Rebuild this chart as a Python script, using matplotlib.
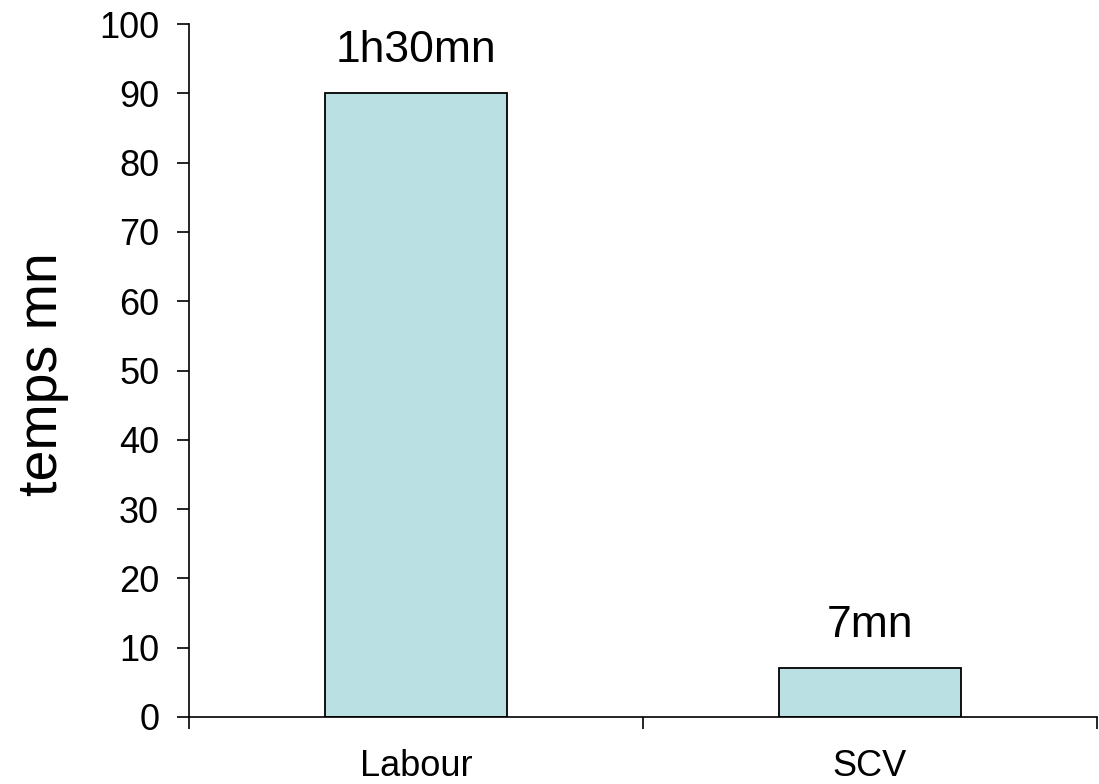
import matplotlib
matplotlib.use("Agg")
import matplotlib.pyplot as plt

categories = ["Labour", "SCV"]
values = [90, 7]
bar_labels = ["1h30mn", "7mn"]
y_ticks = [0, 10, 20, 30, 40, 50, 60, 70, 80, 90, 100]

plt.rcParams['font.family'] = ['Liberation Sans', 'DejaVu Sans']

fig = plt.figure(figsize=(10.99, 7.84), dpi=100)
ax = fig.add_axes([189/1099, 1 - 717/784, 908/1099, 693/784])

x = list(range(len(categories)))
bars = ax.bar(x, values, width=0.4, color="#BAE0E3", edgecolor="black", linewidth=1.3)

for b, lab in zip(bars, bar_labels):
    ax.annotate(lab, (b.get_x() + b.get_width() / 2, b.get_height()),
                xytext=(0, 16), textcoords="offset points",
                ha="center", va="bottom", fontsize=32)

ax.set_xlim(-0.5, len(categories) - 0.5)
ax.set_ylim(0, 100)
ax.set_yticks(y_ticks)
ax.tick_params(axis="y", labelsize=26, length=8.5, width=1.2, pad=13)

# category labels without ticks, boundary ticks as minor ticks
ax.set_xticks(x)
ax.set_xticklabels(categories)
ax.tick_params(axis="x", which="major", length=0, labelsize=26, pad=23)
ax.set_xticks([i - 0.5 for i in range(len(categories) + 1)], minor=True)
ax.tick_params(axis="x", which="minor", length=8.5, width=1.2)

for s in ["top", "right"]:
    ax.spines[s].set_visible(False)
for s in ["left", "bottom"]:
    ax.spines[s].set_linewidth(1.2)

fig.text(43/1099, 1 - 374/784, "temps mn", rotation=90, ha="center", va="center", fontsize=40)

fig.savefig("out.png", dpi=100)
